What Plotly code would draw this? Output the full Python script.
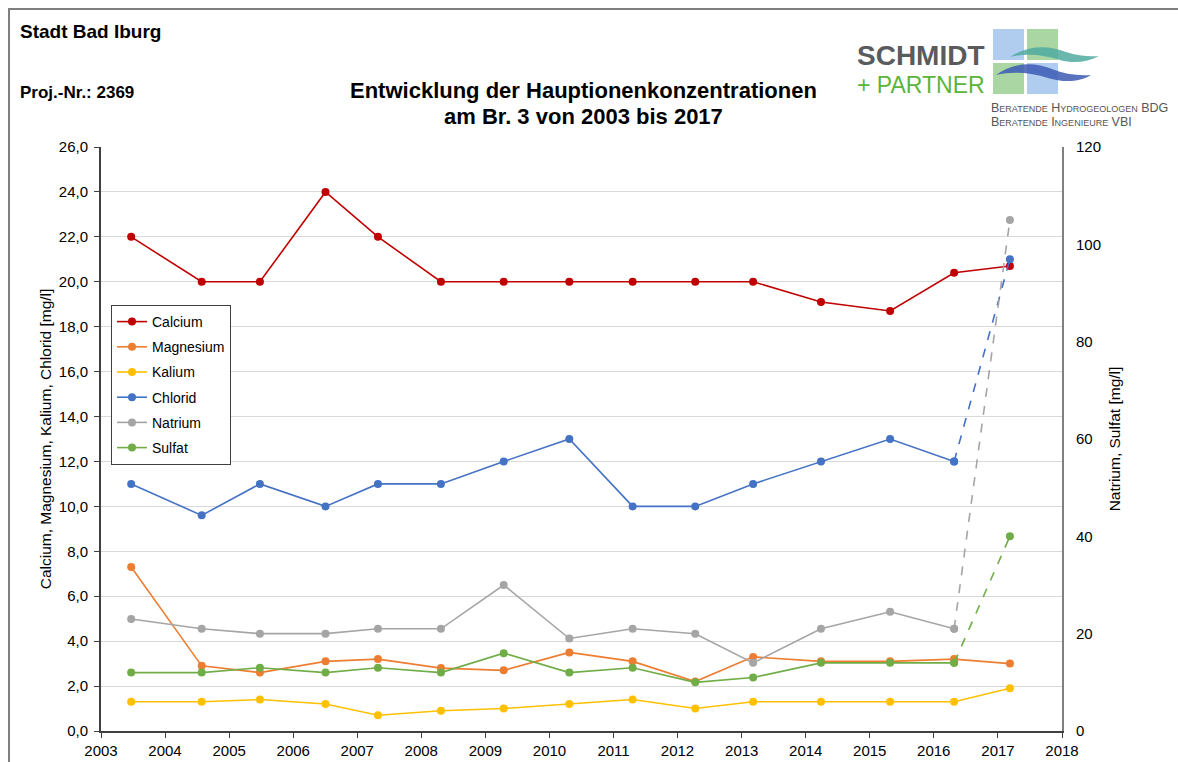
import plotly.graph_objects as go

# ---------------- data ----------------
dates = ["2003-06-22", "2004-07-28", "2005-06-25", "2006-07-04", "2007-04-29",
         "2008-04-22", "2009-04-15", "2010-04-24", "2011-04-20", "2012-04-11",
         "2013-03-07", "2014-03-29", "2015-04-27", "2016-04-26", "2017-03-10"]

calcium   = [22.0, 20.0, 20.0, 24.0, 22.0, 20.0, 20.0, 20.0, 20.0, 20.0, 20.0, 19.1, 18.7, 20.4, 20.7]
magnesium = [7.3, 2.9, 2.6, 3.1, 3.2, 2.8, 2.7, 3.5, 3.1, 2.2, 3.3, 3.1, 3.1, 3.2, 3.0]
kalium    = [1.3, 1.3, 1.4, 1.2, 0.7, 0.9, 1.0, 1.2, 1.4, 1.0, 1.3, 1.3, 1.3, 1.3, 1.9]
chlorid   = [11.0, 9.6, 11.0, 10.0, 11.0, 11.0, 12.0, 13.0, 10.0, 10.0, 11.0, 12.0, 13.0, 12.0, 21.0]
natrium   = [23, 21, 20, 20, 21, 21, 30, 19, 21, 20, 14, 21, 24.5, 21, 105]
sulfat    = [12, 12, 13, 12, 13, 12, 16, 12, 13, 10, 11, 14, 14, 14, 40]

# name, values, colour, axis, last segment dashed
series = [
    ("Calcium",   calcium,   "#C00000", "y",  False),
    ("Magnesium", magnesium, "#ED7D31", "y",  False),
    ("Kalium",    kalium,    "#FFC000", "y",  False),
    ("Chlorid",   chlorid,   "#4472C4", "y",  True),
    ("Natrium",   natrium,   "#A5A5A5", "y2", True),
    ("Sulfat",    sulfat,    "#70AD47", "y2", True),
]

FONT = "Liberation Sans, Arial, sans-serif"

# body margin is removed in the page, so figure origin = screen origin
W, H = 1178, 762
# plot area in screen pixels: x 101..1062, y 147..731
L, R, T, B = 101, 1178 - 1062, 147, 762 - 731
PW, PH = W - L - R, H - T - B


def px(x):  # screen x -> paper
    return (x - L) / PW


def py(y):  # screen y -> paper
    return (H - B - y) / PH


def path(pts_cmds):
    out = []
    for tok in pts_cmds:
        if isinstance(tok, str):
            out.append(tok)
        else:
            out.append(f"{px(tok[0]):.5f},{py(tok[1]):.5f}")
    return " ".join(out)


fig = go.Figure()

for name, vals, col, ax, dashed in series:
    n = len(vals) - 1 if dashed else len(vals)
    fig.add_trace(go.Scatter(
        x=dates[:n], y=vals[:n], name=name, yaxis=ax, legendgroup=name,
        mode="lines+markers",
        line=dict(color=col, width=1.6),
        marker=dict(color=col, size=8),
    ))
for name, vals, col, ax, dashed in series:
    if dashed:
        fig.add_trace(go.Scatter(
            x=dates[-2:], y=vals[-2:], name=name, yaxis=ax, legendgroup=name,
            mode="lines+markers", showlegend=False,
            line=dict(color=col, width=1.6, dash="dash"),
            marker=dict(color=col, size=8),
        ))

shapes = []
# page frame (left and top)
shapes.append(dict(type="line", xref="paper", yref="paper",
                   x0=px(9), x1=px(9), y0=py(9), y1=py(762),
                   line=dict(color="#7f7f7f", width=2)))
shapes.append(dict(type="line", xref="paper", yref="paper",
                   x0=px(8), x1=px(1178), y0=py(9), y1=py(9),
                   line=dict(color="#7f7f7f", width=2)))
# logo squares
for (x0, y0, x1, y1, c) in [(993, 29, 1024, 60, "#b0cdf0"),
                            (1027, 29, 1058, 60, "#a9d6a3"),
                            (993, 63, 1024, 94, "#a9d6a3"),
                            (1027, 63, 1058, 94, "#b0cdf0")]:
    shapes.append(dict(type="rect", xref="paper", yref="paper",
                       x0=px(x0), x1=px(x1), y0=py(y1), y1=py(y0),
                       fillcolor=c, line=dict(width=0)))
# logo waves
teal = path(["M", (1010, 57), "C", (1028, 45), (1048, 45), (1066, 52),
             "C", (1078, 56), (1090, 57), (1099, 56),
             "C", (1088, 62), (1074, 64), (1060, 60),
             "C", (1044, 55), (1028, 53), (1010, 57), "Z"])
blue = path(["M", (996, 75), "C", (1014, 62), (1034, 62), (1052, 69),
             "C", (1064, 74), (1078, 76), (1091, 75),
             "C", (1080, 82), (1064, 83), (1048, 78),
             "C", (1032, 73), (1014, 71), (996, 75), "Z"])
shapes.append(dict(type="path", xref="paper", yref="paper", path=teal,
                   fillcolor="rgba(80,170,160,0.85)", line=dict(width=0)))
shapes.append(dict(type="path", xref="paper", yref="paper", path=blue,
                   fillcolor="rgba(60,90,180,0.85)", line=dict(width=0)))

annotations = []


def text(t, x, y, size, bold=False, color="black", xanchor="left", variant=None):
    f = dict(family=FONT, size=size, color=color)
    if bold:
        f["weight"] = "bold"
    if variant:
        f["variant"] = variant
    annotations.append(dict(text=t, x=px(x), y=py(y), xref="paper", yref="paper",
                            xanchor=xanchor, yanchor="middle", showarrow=False,
                            font=f))


text("Stadt Bad Iburg", 18, 31, 19, bold=True)
text("Proj.-Nr.: 2369", 18, 92, 17, bold=True)
text("Entwicklung der Hauptionenkonzentrationen", 583, 90, 22, bold=True, xanchor="center")
text("am Br. 3 von 2003 bis 2017", 583, 117, 22, bold=True, xanchor="center")
text("SCHMIDT", 855, 55, 28, bold=True, color="#5a5b5d")
text("+ PARTNER", 855, 85, 23, color="#5cb43a")
text("Beratende Hydrogeologen BDG", 989, 108, 12.5, color="#555555", variant="small-caps")
text("Beratende Ingenieure VBI", 989, 122, 12.5, color="#555555", variant="small-caps")

fig.update_layout(
    width=W, height=H,
    margin=dict(l=L, r=R, t=T, b=B, autoexpand=False),
    paper_bgcolor="white", plot_bgcolor="white",
    separators=",.",
    font=dict(family=FONT, size=14, color="black"),
    showlegend=True,
    legend=dict(x=px(111), y=py(305), xanchor="left", yanchor="top",
                bgcolor="white", bordercolor="#404040", borderwidth=1,
                font=dict(family=FONT, size=14, color="black"),
                itemwidth=30, tracegroupgap=4),
    xaxis=dict(type="date", range=["2003-01-01", "2018-01-01"],
               dtick="M12", tick0="2003-01-01", tickformat="%Y",
               showline=True, linecolor="#404040", linewidth=2,
               ticks="outside", ticklen=5, tickcolor="#404040",
               showgrid=False, zeroline=False,
               tickfont=dict(size=15)),
    yaxis=dict(range=[0, 26], dtick=2, tickformat=".1f",
               showline=True, linecolor="#404040", linewidth=2,
               ticks="outside", ticklen=5, tickcolor="#404040",
               ticklabelstandoff=3,
               gridcolor="#d9d9d9", gridwidth=1, zeroline=False,
               tickfont=dict(size=15),
               title=dict(text="Calcium, Magnesium, Kalium, Chlorid [mg/l]",
                          font=dict(size=15.5), standoff=3)),
    yaxis2=dict(range=[0, 120], dtick=20, overlaying="y", side="right",
                showline=True, linecolor="#808080", linewidth=2,
                ticks="", showgrid=False, zeroline=False,
                ticklabelstandoff=9,
                tickfont=dict(size=15),
                title=dict(text="Natrium, Sulfat [mg/l]",
                           font=dict(size=15.5), standoff=9)),
    shapes=shapes,
    annotations=annotations,
)

fig.write_html("out.html", config={"displayModeBar": False},
               post_script="document.body.style.margin='0';"
                           "document.body.style.overflow='hidden';"
                           "document.documentElement.style.overflow='hidden';")
